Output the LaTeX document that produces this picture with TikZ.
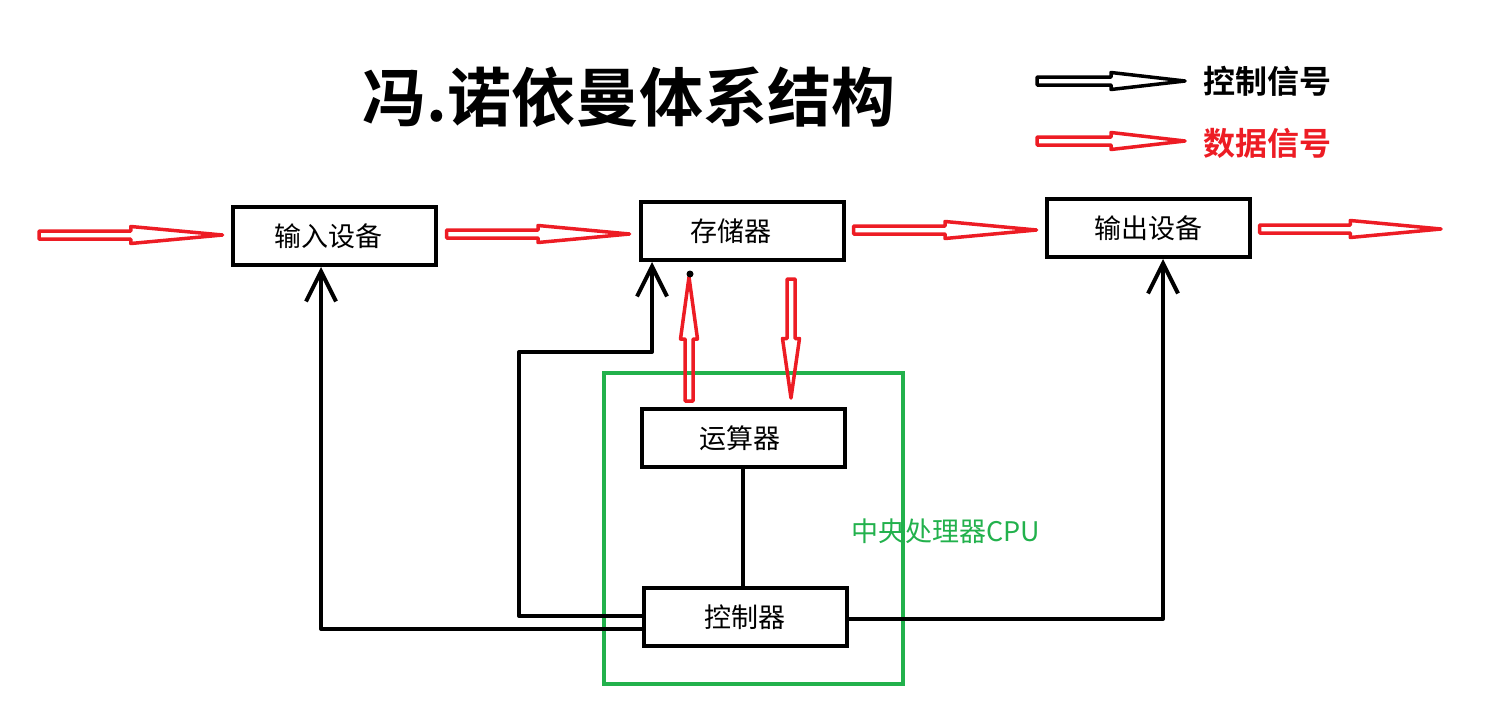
\documentclass[tikz,border=0pt]{standalone}
\usepackage{fontspec}
\setmainfont{Noto Sans CJK SC}[BoldFont={Noto Sans CJK SC Bold}]
\usetikzlibrary{calc,arrows.meta}
\definecolor{pred}{RGB}{237,28,36}
\definecolor{cpugreen}{RGB}{34,177,76}
\tikzset{
  box/.style={draw, line width=4pt, minimum width=203pt, minimum height=58pt, inner sep=0pt, font=\fontsize{27}{27}\selectfont},
  hollow/.style={line width=3.5pt, line join=round},
  ctrl/.style={line width=4pt, line cap=round, line join=round, -{Straight Barb[length=30pt,width=30pt]}},
  plain/.style={line width=4pt, line cap=round}
}
\newcommand\hollowarrow[3]{%
  \draw[hollow,#1] ($(#2)!4pt!90:(#3)$) -- ($(#2)!0.5!(#3)!4pt!90:(#3)$) -- ($(#2)!0.5!(#3)!8.5pt!90:(#3)$) -- (#3) -- ($(#2)!0.5!(#3)!8.5pt!-90:(#3)$) -- ($(#2)!0.5!(#3)!4pt!-90:(#3)$) -- ($(#2)!4pt!-90:(#3)$) -- cycle;}
\begin{document}
\begin{tikzpicture}[x=1pt,y=-1pt]
\useasboundingbox (0,0) rectangle (1504,725);
% title
\node[font=\bfseries\fontsize{64}{64}\selectfont] (title) at (629,97) {冯.诺依曼体系结构};
% legend
\coordinate (lk1) at (1037,81);
\coordinate (lk2) at (1185,81);
\hollowarrow{black}{lk1}{lk2}
\node[font=\bfseries\fontsize{32}{32}\selectfont] (lgc) at (1267,81) {控制信号};
\coordinate (ld1) at (1037,141);
\coordinate (ld2) at (1185,141);
\hollowarrow{pred}{ld1}{ld2}
\node[font=\bfseries\fontsize{32}{32}\selectfont, text=pred] (lgd) at (1267,143) {数据信号};
% boxes
\node[box] (in) at (334,236) {\hspace*{-12pt}输入设备};
\node[box] (mem) at (742,231) {\hspace*{-22pt}存储器};
\node[box] (out) at (1148,228) {输出设备};
\node[box] (alu) at (743,438) {\hspace*{-6pt}运算器};
\node[box] (ctl) at (745,617) {控制器};
\node[draw=cpugreen, line width=3.5pt, minimum width=299pt, minimum height=311pt] (cpu) at (753.5,528.5) {};
\node[text=cpugreen, font=\fontsize{27}{27}\selectfont] (cpulbl) at (946,531) {中央处理器CPU};
% data arrows
\coordinate (r0s) at (39,235);
\coordinate (r0e) at ($(in.west)+(-8,-1)$);
\hollowarrow{pred}{r0s}{r0e}
\coordinate (r1s) at ($(in.east)+(9,-2)$);
\coordinate (r1e) at ($(mem.west)+(-9,3)$);
\hollowarrow{pred}{r1s}{r1e}
\coordinate (r2s) at ($(mem.east)+(8,-1)$);
\coordinate (r2e) at ($(out.west)+(-8,2)$);
\hollowarrow{pred}{r2s}{r2e}
\coordinate (r3s) at ($(out.east)+(8,1)$);
\coordinate (r3e) at (1441,229);
\hollowarrow{pred}{r3s}{r3e}
\coordinate (upS) at ($(alu.north)+(-54,-6)$);
\coordinate (upE) at ($(mem.south)+(-53,15)$);
\hollowarrow{pred}{upS}{upE}
\coordinate (dnS) at ($(mem.south)+(49,17)$);
\coordinate (dnE) at ($(alu.north)+(48,-9)$);
\hollowarrow{pred}{dnS}{dnE}
\fill (690,274) circle (3.5pt);
% control lines
\draw[ctrl] ($(ctl.west)+(0,12)$) -| ($(in.south)+(-13,0)$);
\coordinate (k1) at (519,352);
\draw[ctrl] ($(ctl.west)+(0,-1)$) -| (k1) -| ($(mem.south)+(-90,0)$);
\draw[ctrl] ($(ctl.east)+(0,2)$) -| ($(out.south)+(15,0)$);
\draw[plain] (alu.south) -- (alu.south |- ctl.north);
\end{tikzpicture}
\end{document}
